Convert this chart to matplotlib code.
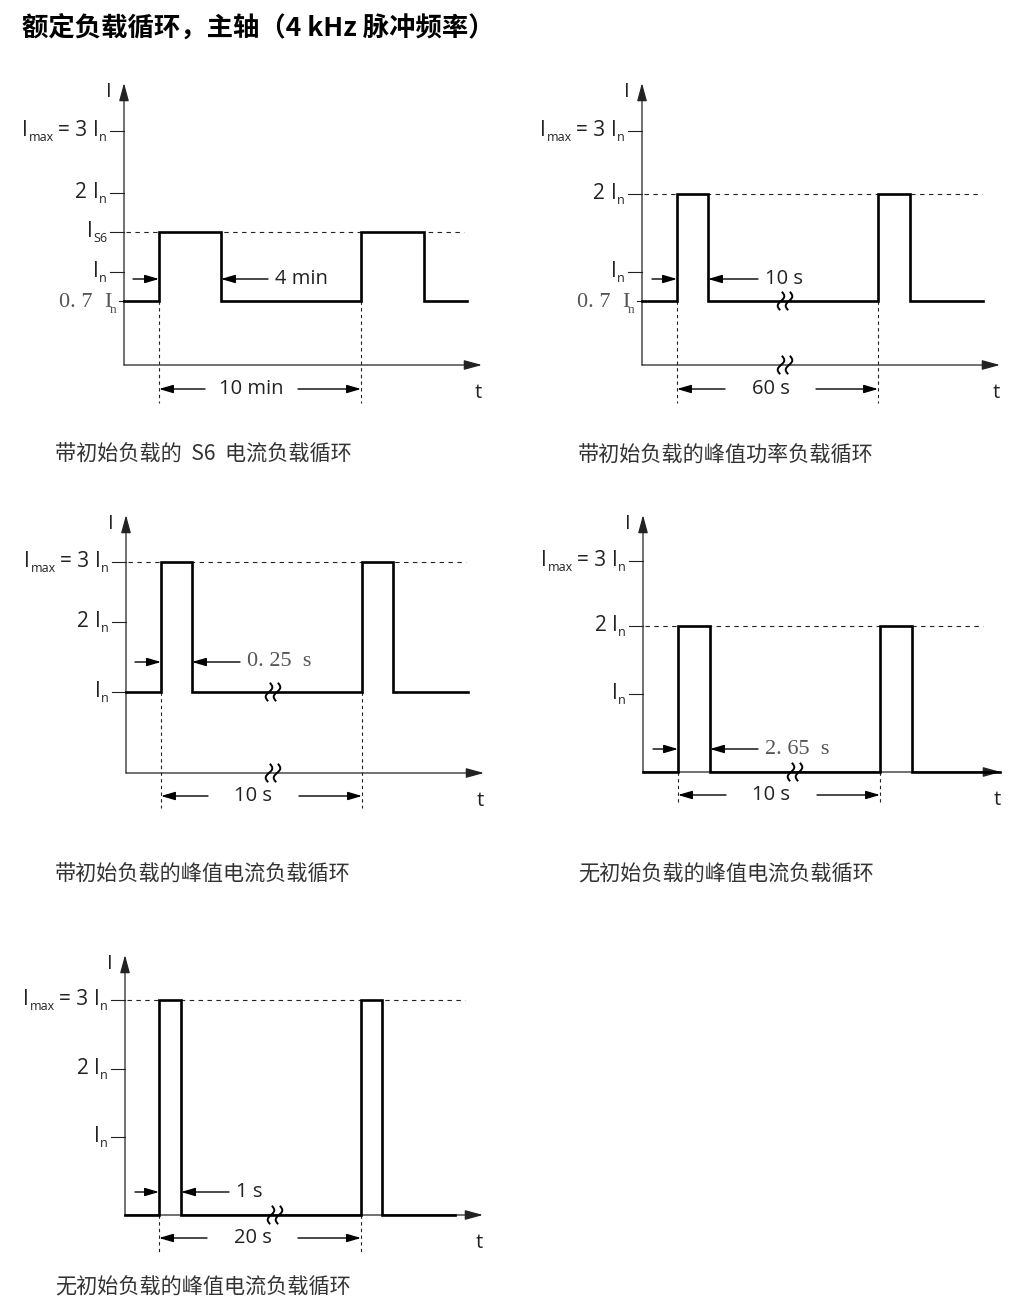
import numpy as np
import matplotlib
matplotlib.use('Agg')
import matplotlib.pyplot as plt

plt.rcParams['font.family'] = ['Open Sans', 'Noto Sans CJK SC', 'DejaVu Sans']

W, H = 1024, 1308
SANS = ['Open Sans', 'DejaVu Sans']
SERIF = ['Liberation Serif', 'DejaVu Serif']
CJK = ['Noto Sans CJK SC', 'DejaVu Sans']

title = '额定负载循环，主轴（4 kHz 脉冲频率）'

captions = ['带初始负载的  S6  电流负载循环',
            '带初始负载的峰值功率负载循环',
            '带初始负载的峰值电流负载循环',
            '无初始负载的峰值电流负载循环',
            '无初始负载的峰值电流负载循环']

# tick labels as (text, kind) runs: 'm' main, 's' subscript, number = gap
IMAX = [('I', 'm'), (1, 'g'), ('max', 's'), (4, 'g'), ('= 3', 'm'), (6, 'g'), ('I', 'm'), (0, 'g'), ('n', 's')]
I2 = [('2', 'm'), (6, 'g'), ('I', 'm'), (0, 'g'), ('n', 's')]
IN = [('I', 'm'), (0, 'g'), ('n', 's')]
IS6 = [('I', 'm'), (0, 'g'), ('S6', 's')]
I07 = [('0. 7', 'm'), (11, 'g'), ('I', 'm'), (-2, 'g'), ('n', 's')]

# schematic drawing units (current level heights / time positions as drawn)
tick_labels = [[IMAX, I2, IS6, IN, I07],
               [IMAX, I2, IN, I07],
               [IMAX, I2, IN],
               [IMAX, I2, IN],
               [IMAX, I2, IN]]
tick_levels = [[234, 172, 133, 93, 64],
               [234, 171, 93, 64],
               [211, 151, 81],
               [211, 146, 78],
               [215, 146, 78]]

base_level = [64, 64, 81, 0, 0]
peak_level = [133, 171, 211, 146, 215]
pulse_edges = [[35, 97, 237, 300],
               [35, 66, 236, 268],
               [35, 66, 236, 267],
               [35, 67, 237, 269],
               [34, 56, 236, 257]]
wave_end = [343, 341, 342, 357, 330]

width_labels = ['4 min', '10 s', '0. 25  s', '2. 65  s', '1 s']
width_serif = [False, False, True, True, False]
period_labels = ['10 min', '60 s', '10 s', '10 s', '20 s']
has_break = [False, True, True, True, True]

# layout: axis origin in pixels, arrow rows
origins = [(124, 365), (642, 365), (126, 773), (643, 772), (125, 1215)]
y_tip = [282, 282, 258, 257, 260]
width_row = [86, 86, 111, 23, 23]
width_tail = [(9, 144), (10, 116), (9, 114), (10, 115), (10, 104)]
period_row = [-24, -24, -23, -23, -23]
period_tail = [(81, 174), (83, 174), (82, 173), (83, 174), (82, 173)]
vline_bottom = [-38, -38, -35, -31, -37]
break_x = [None, 143, 147, 152, 150]
caption_pos = [(55, 455), (578, 455), (55, 875), (578, 875), (55, 1288)]

fig = plt.figure(figsize=(W / 100, H / 100), dpi=100)
renderer = fig.canvas.get_renderer()
fig.text(22 / W, 1 - 28 / H, title, fontsize=19, fontweight='bold',
         family=CJK, va='center', ha='left')

head_axis = '-|>,head_length=1.1,head_width=0.3'
head_dim = '-|>,head_length=0.85,head_width=0.25'


def arrow(ax, x0, x1, y0, y1, style, lw=1.0, color='black'):
    ax.annotate('', xy=(x1, y1), xytext=(x0, y0), annotation_clip=False,
                arrowprops=dict(arrowstyle=style, lw=lw, color=color,
                                shrinkA=0, shrinkB=0, mutation_scale=10))


def squiggle(ax, x, y):
    s = np.linspace(-1, 1, 40)
    for dx in (-4, 4):
        ax.plot(x + dx + 2.5 * np.sin(np.pi * s) + 1.5 * s, y + 8.5 * s, color='black',
                lw=1.4, clip_on=False, zorder=5)


def rich(ax, x, y, runs, size, color, family, sub_drop=5):
    # right-aligned run of main text and subscripts ending at x
    cur = x
    for txt, kind in reversed(runs):
        if kind == 'g':
            cur -= txt
            continue
        sub = kind == 's'
        t = ax.text(cur, y - (sub_drop if sub else 0), txt,
                    fontsize=size * (0.6 if sub else 1.0), ha='right', va='baseline',
                    color=color, family=family)
        cur -= t.get_window_extent(renderer).width


for i in range(5):
    ox, oy = origins[i]
    ax = fig.add_axes([(ox - 110) / W, (H - (oy + 45)) / H, 480 / W, 335 / H])
    ax.set_xlim(-110, 370)
    ax.set_ylim(-45, 290)
    ax.axis('off')

    # axes with arrows
    arrow(ax, 0, 0, 0, y_tip[i], head_axis, lw=0.9, color='#222222')
    arrow(ax, 0, 358, 0, 0, head_axis, lw=0.9, color='#222222')
    ax.text(-15, y_tip[i] - 9, 'I', fontsize=14.5, ha='center', va='center', color='#222222')
    ax.text(354, -28, 't', fontsize=14.5, ha='center', va='center', color='#222222')

    # ticks and labels
    for runs, lev in zip(tick_labels[i], tick_levels[i]):
        if runs is I07:
            ax.plot([-5, 0], [lev, lev], color='#222222', lw=0.8, clip_on=False)
            rich(ax, -8, lev - 6, runs, 16, '#555555', SERIF, sub_drop=6)
        else:
            ax.plot([-14, 0], [lev, lev], color='#222222', lw=0.8, clip_on=False)
            rich(ax, -17, lev - 5, runs, 15, '#222222', SANS)

    # dashed peak reference line
    ax.plot([2, 340], [peak_level[i], peak_level[i]], color='#222222', lw=0.8,
            ls=(0, (4, 4)), clip_on=False)

    # waveform
    e = pulse_edges[i]
    b, p = base_level[i], peak_level[i]
    xs = [0, e[0], e[0], e[1], e[1], e[2], e[2], e[3], e[3], wave_end[i]]
    ys = [b, b, p, p, b, b, p, p, b, b]
    ax.plot(xs, ys, color='black', lw=1.9, solid_joinstyle='miter', clip_on=False, zorder=4)

    # vertical dashed lines at pulse starts
    for xv in (e[0], e[2]):
        ax.plot([xv, xv], [b, vline_bottom[i]], color='#222222', lw=0.8,
                ls=(0, (3, 3)), clip_on=False)

    # pulse width arrows
    y = width_row[i]
    arrow(ax, width_tail[i][0], e[0], y, y, head_dim)
    arrow(ax, width_tail[i][1], e[1], y, y, head_dim)
    if width_serif[i]:
        ax.text(width_tail[i][1] + 7, y, width_labels[i], fontsize=16, family=SERIF,
                ha='left', va='center', color='#555555')
    else:
        ax.text(width_tail[i][1] + 7, y, width_labels[i], fontsize=14.5,
                ha='left', va='center', color='#222222')

    # period arrows
    y = period_row[i]
    arrow(ax, period_tail[i][0], e[0], y, y, head_dim)
    arrow(ax, period_tail[i][1], e[2], y, y, head_dim)
    ax.text((period_tail[i][0] + period_tail[i][1]) / 2, y, period_labels[i], fontsize=14.5,
            ha='center', va='center', color='#222222')

    # break marks
    if has_break[i]:
        squiggle(ax, break_x[i], 0)
        if b > 0:
            squiggle(ax, break_x[i], b)

    cx, cy = caption_pos[i]
    fig.text(cx / W, 1 - cy / H, captions[i], fontsize=15.2, color='#333333',
             family=CJK, ha='left', va='center')

fig.savefig('out.png', dpi=100)
